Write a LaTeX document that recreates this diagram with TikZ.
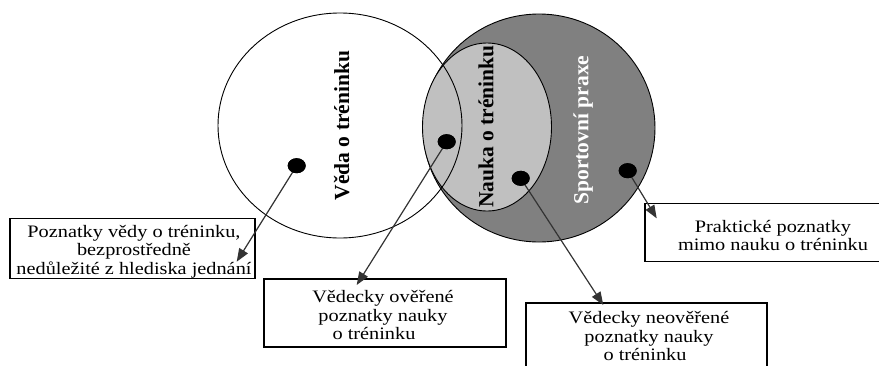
\documentclass[tikz,border=0pt]{standalone}
\usepackage{fontspec}
\setmainfont{Liberation Serif}
\newfontfamily\boxfont{Liberation Serif}[FakeStretch=1.16]
\usetikzlibrary{arrows.meta,shapes.geometric}
\definecolor{praxe}{HTML}{808080}
\definecolor{nauka}{HTML}{C0C0C0}
\definecolor{pointer}{HTML}{333333}
\tikzset{
  setline/.style={draw=black, line width=0.9pt},
  setlabel/.style={rotate=90, inner sep=0pt, font=\fontsize{21.5}{24}\selectfont\bfseries},
  infobox/.style={draw=black, line width=1.1pt, fill=white, inner sep=0pt},
  infotext/.style={anchor=north, align=center, inner sep=0pt,
    font=\boxfont\fontsize{17.5}{18.7}\selectfont},
  pointer/.style={draw=pointer, line width=1.2pt, -{Triangle[length=13pt,width=10pt]}},
  dot/.style={ellipse, fill=black, inner sep=0pt, minimum width=18pt, minimum height=15pt}
}
\begin{document}
\begin{tikzpicture}[x=1pt, y=-1pt]
  \useasboundingbox (0,0) rectangle (879,365);
  \clip (0,0) rectangle (879,365);

  % sets
  \path[setline, fill=praxe] (539,128) ellipse [x radius=116, y radius=114];
  \path[setline, fill=nauka] (487,127) ellipse [x radius=64.5, y radius=84];
  \path[setline] (340,125.5) ellipse [x radius=122, y radius=112.5];

  % set names
  \node[setlabel] (veda) at (341.7,125.5) {Věda o tréninku};
  \node[setlabel] (naukalbl) at (486,126.7) {Nauka o tréninku};
  \node[setlabel, text=white] (praxelbl) at (583.3,130) {Sportovní praxe};

  % boxes
  \node[infobox, minimum width=245pt, minimum height=60pt] (b1) at (132.5,248.3) {};
  \node[infobox, minimum width=242pt, minimum height=68pt] (b2) at (385,313) {};
  \node[infobox, minimum width=241pt, minimum height=90pt] (b3) at (646.5,348) {};
  \node[infobox, minimum width=260pt, minimum height=58pt] (b4) at (775,232.5) {};

  \node[infotext] (t1) at (134,224.7) {Poznatky vědy o tréninku,\\bezprostředně\\nedůležité z hlediska jednání};
  \node[infotext] (t2) at (383,290.2) {Vědecky ověřené\\poznatky nauky\\o tréninku\hspace*{18pt}};
  \node[infotext] (t3) at (649,311) {Vědecky neověřené\\poznatky nauky\\o tréninku\hspace*{8pt}};
  \node[infotext] (t4) at (773,219.7) {Praktické poznatky\\mimo nauku o tréninku};

  % points
  \node[dot] (d1) at (296.7,165.7) {};
  \node[dot] (d2) at (446.7,141.7) {};
  \node[dot] (d3) at (520.7,178.3) {};
  \node[dot] (d4) at (627.7,170.7) {};

  % arrow tips inside the boxes
  \coordinate (p1) at (236.7,261.7);
  \coordinate (p2) at (356.7,285);
  \coordinate (p3) at (603.3,305);
  \coordinate (p4) at (656.7,218.3);

  \draw[pointer] (d1.center) -- (p1);
  \draw[pointer] (d2.center) -- (p2);
  \draw[pointer] (d3.center) -- (p3);
  \draw[pointer] (d4.center) -- (p4);

  % dots on top of the pointer lines
  \fill (d1) ellipse [x radius=9, y radius=7.5];
  \fill (d2) ellipse [x radius=9, y radius=7.5];
  \fill (d3) ellipse [x radius=9, y radius=7.5];
  \fill (d4) ellipse [x radius=9, y radius=7.5];
\end{tikzpicture}
\end{document}
